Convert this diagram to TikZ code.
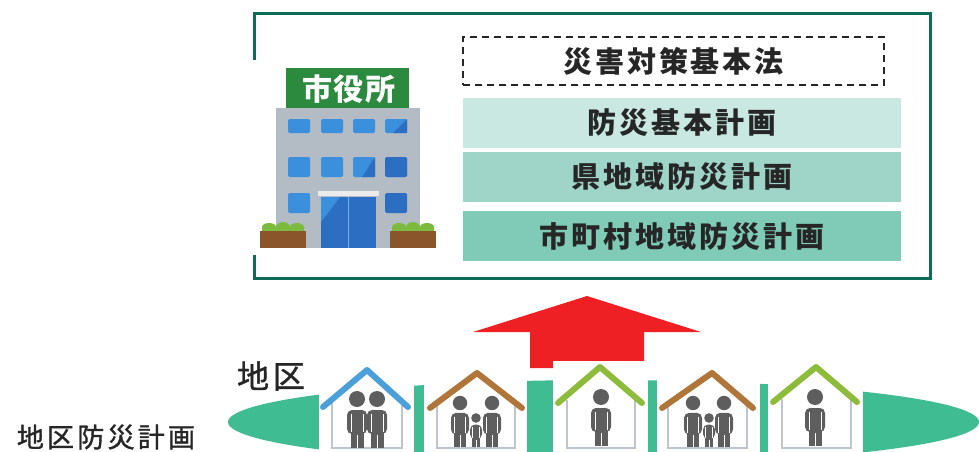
\documentclass[tikz,border=0pt]{standalone}
\usepackage{fontspec}
\newfontfamily\jp[LetterSpace=10]{Noto Sans CJK JP}
\newfontfamily\jplab[LetterSpace=12, FakeBold=1.2]{Noto Sans CJK JP}
\newfontfamily\jpsign[LetterSpace=6]{Noto Sans CJK JP}
\definecolor{frameg}{HTML}{0E6B55}
\definecolor{planA}{HTML}{C9E8E1}
\definecolor{planB}{HTML}{9ED5C8}
\definecolor{planC}{HTML}{7FCBB7}
\definecolor{area}{HTML}{40BC93}
\definecolor{uparrow}{HTML}{EE2024}
\definecolor{bldg}{HTML}{B3BBC4}
\definecolor{win}{HTML}{3A90DC}
\definecolor{windark}{HTML}{2C6FC2}
\definecolor{sign}{HTML}{2B8A3E}
\definecolor{soil}{HTML}{8A552A}
\definecolor{bush}{HTML}{7DBB3F}
\definecolor{roofblue}{HTML}{4BA0DA}
\definecolor{roofbrown}{HTML}{B07538}
\definecolor{roofgreen}{HTML}{8DBB3A}
\definecolor{wall}{HTML}{BCC5D0}
\definecolor{human}{HTML}{5E5E5E}
\tikzset{
  planbox/.style={minimum width=438pt, minimum height=50pt, inner sep=0pt, text=black!85,
    font=\jp\bfseries\fontsize{29}{32}\selectfont},
  lawbox/.style={draw=black!85, dashed, line width=1.5pt, dash pattern=on 7pt off 5pt,
    minimum width=421pt, minimum height=48pt, inner sep=0pt, text=black!85,
    font=\jp\bfseries\fontsize{29}{32}\selectfont},
  label/.style={inner sep=0pt, text=black!85},
  roof/.style={line width=6pt, line cap=round, line join=round},
  walls/.style={draw=wall, line width=1.6pt},
  window/.style={fill=win, rounded corners=1.5pt},
  pics/person/.style={code={
    \fill[human] (0,0) circle (8);
    \fill[human, rounded corners=5pt] (-10,11) rectangle (10,35);
    \fill[human] (-6.5,28) rectangle (6.5,49);
    \draw[white, line width=0.7pt] (-6,15) -- (-6,33) (6,15) -- (6,33) (0,36) -- (0,49);
  }},
}
\begin{document}
\begin{tikzpicture}[x=1pt, y=-1pt]
\useasboundingbox (0,0) rectangle (979,452);
\fill[white] (0,0) rectangle (979,452);

% city office frame and the plan hierarchy
\draw[frameg, line width=3pt] (254,14) rectangle (930,278);
\node[lawbox] (law) at (673.5,61) {災害対策基本法};
\node[planbox, fill=planA] (national) at (682,123) {防災基本計画};
\node[planbox, fill=planB] (pref) at (682,177) {県地域防災計画};
\node[planbox, fill=planC] (city) at (682,236) {市町村地域防災計画};

% city office building
\fill[white] (246,60) rectangle (446,255);
\fill[bldg] (276,108) rectangle (420,248);
\fill[sign] (286,68) rectangle (409,108);
\node[label, text=white, font=\jpsign\bfseries\fontsize{30}{32}\selectfont] (office) at (349,89) {市役所};
\foreach \x in {288,321,353,385} {
  \fill[window] (\x,119) rectangle ++(22,14);
  \fill[window] (\x,157) rectangle ++(22,20);
}
\fill[windark] (407,119) -- (407,133) -- (393,133) -- cycle;
\fill[windark] (375,157) -- (375,177) -- (362,177) -- cycle;
\fill[windark, rounded corners=1.5pt] (385,157) rectangle ++(22,20);
\fill[window] (288,193) rectangle ++(22,20);
\fill[windark, rounded corners=1.5pt] (385,193) rectangle ++(22,20);
\fill[black!8] (318,191) rectangle (379,196);
\fill[windark] (321,197) rectangle (376,248);
\fill[win] (321,197) -- (340,197) -- (321,222) -- cycle;
\draw[win!70!white, line width=1pt] (348.5,197) -- (348.5,248);
\foreach \x in {260,390} {
  \fill[bush] (\x+2,232) -- (\x+2,227)
    arc[start angle=180, end angle=360, x radius=7, y radius=4]
    arc[start angle=180, end angle=360, x radius=7, y radius=5]
    arc[start angle=180, end angle=360, x radius=7, y radius=4]
    -- (\x+44,232) -- cycle;
  \fill[soil] (\x,231) rectangle ++(46,17);
}

% district area
\begin{scope}
  \clip (0,0) rectangle (979,452);
  \fill[area] (603.5,422) ellipse[x radius=375.5, y radius=42];
\end{scope}

% upward arrow from the district
\fill[uparrow] (530,368) -- (530,332) -- (473,332) -- (587,296) -- (701,332) -- (644,332) -- (644,368) -- cycle;

% houses
\foreach \l/\r/\t in {319/414/362, 424/527/362, 553/648/361, 657/760/362, 768/863/362}
  \fill[white] (\l,\t) rectangle (\r,452);

\draw[walls] (332,403) -- (332,448) -- (402,448) -- (402,403);
\draw[roof, roofblue] (323,407) -- (367,370) -- (408,407);
\pic at (357,399) {person};
\pic at (377,399) {person};

\draw[walls] (437,404) -- (437,448) -- (515,448) -- (515,404);
\draw[roof, roofbrown] (430,408) -- (477,373) -- (522,408);
\pic[scale=0.9] at (460,403) {person};
\pic[scale=0.9] at (492,403) {person};
\pic[scale=0.6] at (476,418) {person};

\draw[walls] (567,400) -- (567,448) -- (635,448) -- (635,400);
\draw[roof, roofgreen] (558,403) -- (600,367) -- (642,403);
\pic at (601,397) {person};

\draw[walls] (668,404) -- (668,448) -- (747,448) -- (747,404);
\draw[roof, roofbrown] (662,408) -- (712,373) -- (753,408);
\pic[scale=0.9] at (693,403) {person};
\pic[scale=0.9] at (724,403) {person};
\pic[scale=0.6] at (709,418) {person};

\draw[walls] (782,399) -- (782,448) -- (851,448) -- (851,399);
\draw[roof, roofgreen] (773,402) -- (816,367) -- (857,402);
\pic at (815,397) {person};

% labels
\node[label, font=\jplab\fontsize{32}{34}\selectfont] (district) at (271,376) {地区};
\node[label, font=\jplab\fontsize{27}{29}\selectfont] (districtplan) at (106,437) {地区防災計画};
\end{tikzpicture}
\end{document}
